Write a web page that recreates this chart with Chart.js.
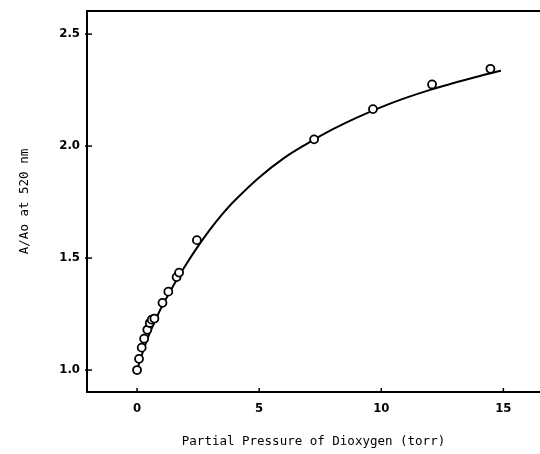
<!DOCTYPE html>
<html>
<head>
<meta charset="utf-8">
<script src="https://cdn.jsdelivr.net/npm/chart.js@4/dist/chart.umd.min.js"></script>
<style>
  html, body { margin: 0; padding: 0; background: #ffffff; }
  #wrap { width: 540px; height: 454px; position: relative; }
</style>
</head>
<body>
<div id="wrap"><canvas id="c" width="540" height="454"></canvas></div>
<script>
// Measured points: partial pressure of O2 (torr) vs A/Ao at 520 nm
const pressure = [0, 0.08, 0.19, 0.29, 0.42, 0.52, 0.60, 0.71, 1.04, 1.28, 1.62, 1.72, 2.45, 7.25, 9.66, 12.08, 14.47];
const absRatio = [1.00, 1.05, 1.10, 1.14, 1.18, 1.21, 1.225, 1.23, 1.30, 1.35, 1.415, 1.435, 1.58, 2.03, 2.165, 2.275, 2.345];

// Fitted curve
const fitX = [0, 0.25, 0.5, 0.75, 1, 1.5, 2, 2.5, 3, 3.5, 4, 5, 6, 7, 8, 9, 10, 11, 12, 13, 14, 14.9];
const fitY = [1.0, 1.085, 1.16, 1.222, 1.28, 1.38, 1.47, 1.553, 1.629, 1.697, 1.757, 1.86, 1.945, 2.013, 2.074, 2.127, 2.174, 2.215, 2.251, 2.283, 2.312, 2.336];

// Tick labels
const xTicks = [0, 5, 10, 15];
const yTicks = [1.0, 1.5, 2.0, 2.5];

const xTitle = 'Partial Pressure of Dioxygen (torr)';
const yTitle = 'A/Ao at 520 nm';

const pointData = pressure.map((p, i) => ({ x: p, y: absRatio[i] }));
const curveData = fitX.map((p, i) => ({ x: p, y: fitY[i] }));

const frameAndTicks = {
  id: 'frameAndTicks',
  afterDraw(chart) {
    const { ctx, chartArea, scales } = chart;
    ctx.save();
    ctx.strokeStyle = '#000';
    ctx.lineWidth = 2;
    // top frame line
    ctx.beginPath();
    ctx.moveTo(chartArea.left, chartArea.top);
    ctx.lineTo(chartArea.right, chartArea.top);
    ctx.stroke();
    ctx.lineWidth = 1.5;
    // inward ticks
    scales.x.ticks.forEach(t => {
      const px = scales.x.getPixelForValue(t.value);
      ctx.beginPath();
      ctx.moveTo(px, chartArea.bottom);
      ctx.lineTo(px, chartArea.bottom - 4);
      ctx.stroke();
    });
    scales.y.ticks.forEach(t => {
      const py = scales.y.getPixelForValue(t.value);
      ctx.beginPath();
      ctx.moveTo(chartArea.left - 2, py);
      ctx.lineTo(chartArea.left + 5, py);
      ctx.stroke();
    });
    ctx.restore();
  }
};

new Chart(document.getElementById('c'), {
  type: 'scatter',
  data: {
    datasets: [
      {
        label: 'fit',
        data: curveData,
        showLine: true,
        borderColor: '#000',
        borderWidth: 2,
        pointRadius: 0,
        tension: 0.4,
        fill: false,
        order: 2
      },
      {
        label: 'data',
        data: pointData,
        showLine: false,
        pointStyle: 'circle',
        pointRadius: 4,
        pointBorderWidth: 1.8,
        pointBorderColor: '#000',
        pointBackgroundColor: '#fff',
        order: 1
      }
    ]
  },
  options: {
    responsive: false,
    animation: false,
    events: [],
    layout: { autoPadding: false, padding: { top: 11, right: 0, left: 0, bottom: 0 } },
    plugins: {
      legend: { display: false },
      tooltip: { enabled: false }
    },
    scales: {
      x: {
        type: 'linear',
        min: -2.05,
        max: 16.5,
        afterBuildTicks: s => { s.ticks = xTicks.map(v => ({ value: v })); },
        afterFit: s => { s.height = 62; s.paddingLeft = 0; s.paddingRight = 0; },
        grid: { display: false, drawTicks: false },
        border: { display: true, color: '#000', width: 2 },
        ticks: {
          color: '#000',
          padding: 9,
          font: { family: 'DejaVu Sans Condensed', size: 13, weight: 'bold' },
          callback: v => String(v)
        },
        title: {
          display: true,
          text: xTitle,
          color: '#000',
          font: { family: 'DejaVu Sans Mono', size: 12.5 },
          padding: { top: 0, bottom: 5 }
        }
      },
      y: {
        type: 'linear',
        min: 0.902,
        max: 2.603,
        afterBuildTicks: s => { s.ticks = yTicks.map(v => ({ value: v })); },
        afterFit: s => { s.width = 87; s.paddingTop = 0; s.paddingBottom = 0; },
        grid: { display: false, drawTicks: false },
        border: { display: true, color: '#000', width: 2 },
        ticks: {
          color: '#000',
          padding: 7,
          font: { family: 'DejaVu Sans Condensed', size: 13, weight: 'bold' },
          callback: v => Number(v).toFixed(1)
        },
        title: {
          display: true,
          text: yTitle,
          color: '#000',
          font: { family: 'DejaVu Sans Mono', size: 12.5 },
          padding: { top: 17, bottom: 0 }
        }
      }
    }
  },
  plugins: [frameAndTicks]
});
</script>
</body>
</html>
